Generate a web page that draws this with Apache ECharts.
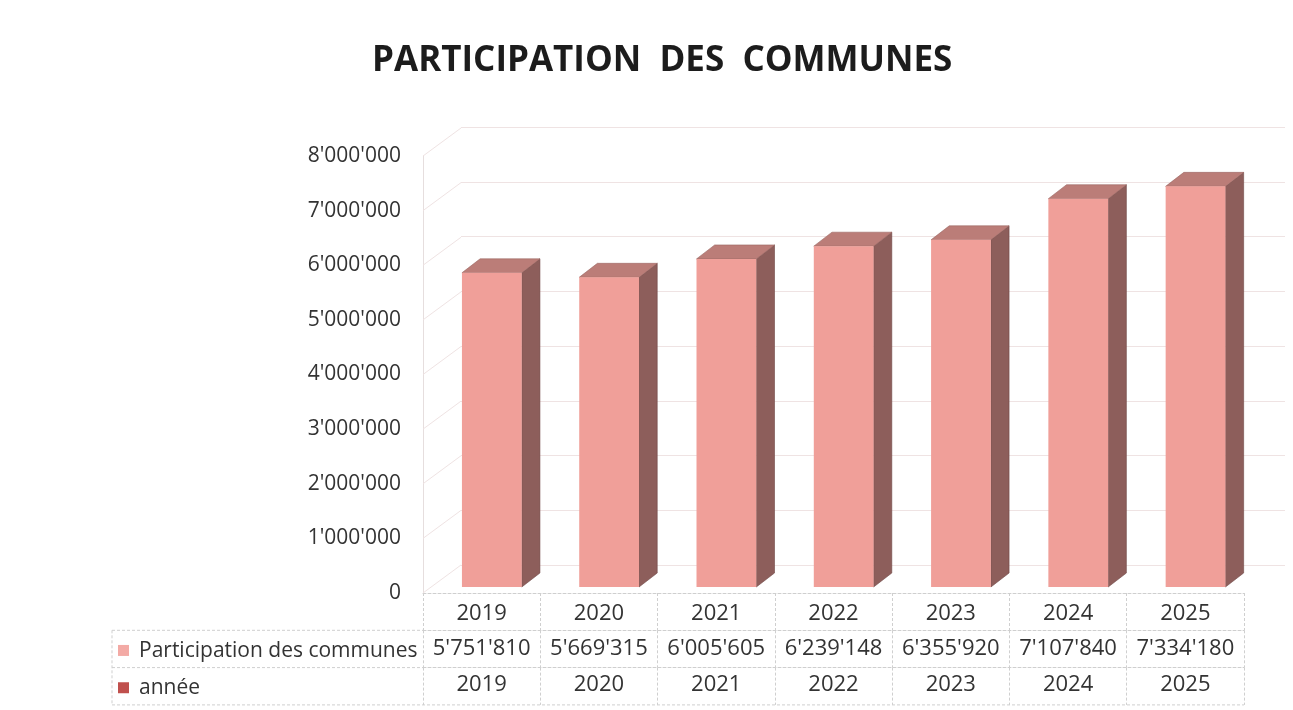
<!DOCTYPE html>
<html>
<head>
<meta charset="utf-8">
<script src="https://cdn.jsdelivr.net/npm/echarts@6/dist/echarts.min.js"></script>
<style>
html,body{margin:0;padding:0;background:#fff;}
#c{width:1293px;height:710px;}
</style>
</head>
<body>
<div id="c"></div>
<script>
// ---- data ----
const years = ['2019','2020','2021','2022','2023','2024','2025'];
const participation = [5751810, 5669315, 6005605, 6239148, 6355920, 7107840, 7334180];
const annee = [2019, 2020, 2021, 2022, 2023, 2024, 2025];
const yTicks = [0, 1000000, 2000000, 3000000, 4000000, 5000000, 6000000, 7000000, 8000000];
const seriesNames = ['Participation des communes', 'année'];
const titleText = 'PARTICIPATION  DES  COMMUNES';

// ---- helpers ----
const fmt = v => String(v).replace(/\B(?=(\d{3})+(?!\d))/g, "'");
const FONT = 'Open Sans';
const txt = '#333333';
const border = '#cfcfcf';
const front = '#f09f99', topC = '#bb7d78', sideC = '#8d5e5b';

const chart = echarts.init(document.getElementById('c'), null, {renderer: 'canvas'});

const G_LEFT = 423, G_RIGHT = 49, G_TOP = 156, G_BOTTOM = 117;
const ROW = 37.3;
const TABLE_LEFT = 112;
const gridBottomY = 710 - G_BOTTOM;
const tableLabel = {interval: 0, hideOverlap: false, fontFamily: FONT, fontSize: 22, color: txt};

const option = {
  backgroundColor: '#ffffff',
  animation: false,
  title: {
    text: titleText,
    left: 367,
    top: 39,
    textStyle: {fontFamily: FONT, fontWeight: 'bold', fontSize: 35, color: '#1c1c1c'}
  },
  grid: [
    {left: G_LEFT, right: G_RIGHT, top: G_TOP, bottom: G_BOTTOM},
    {left: G_LEFT + 38, right: 8, top: G_TOP - 29, bottom: G_BOTTOM + 28}
  ],
  xAxis: [
    {
      gridIndex: 0, type: 'category', data: years, position: 'bottom',
      axisLine: {show: true, lineStyle: {color: border, type: [3, 2]}},
      axisTick: {show: true, interval: 0, length: ROW, lineStyle: {color: border, type: [3, 2]}},
      axisLabel: Object.assign({margin: 10}, tableLabel)
    },
    {
      gridIndex: 0, type: 'category', data: participation.map(fmt), position: 'bottom', offset: ROW,
      axisLine: {show: true, lineStyle: {color: border, type: [3, 2]}},
      axisTick: {show: true, interval: 0, length: ROW, lineStyle: {color: border, type: [3, 2]}},
      axisLabel: Object.assign({margin: 7}, tableLabel)
    },
    {
      gridIndex: 0, type: 'category', data: annee.map(String), position: 'bottom', offset: ROW * 2,
      axisLine: {show: true, lineStyle: {color: border, type: [3, 2]}},
      axisTick: {show: true, interval: 0, length: ROW, lineStyle: {color: border, type: [3, 2]}},
      axisLabel: Object.assign({margin: 6}, tableLabel)
    },
    {
      gridIndex: 1, type: 'category', data: years, show: false
    }
  ],
  yAxis: [
    {
      gridIndex: 0, type: 'value', min: 0, max: 8000000, interval: 1000000,
      axisLine: {show: true, lineStyle: {color: '#e6dede'}},
      axisTick: {show: false},
      splitLine: {show: false},
      axisLabel: {margin: 22, fontFamily: FONT, fontSize: 21, color: txt, formatter: v => fmt(v)}
    },
    {
      gridIndex: 1, type: 'value', min: 0, max: 8000000, interval: 1000000,
      axisLine: {show: false}, axisTick: {show: false}, axisLabel: {show: false},
      splitLine: {show: true, lineStyle: {color: '#efe3e3', width: 1}}
    }
  ],
  series: [
    {
      // left wall diagonals
      type: 'custom', xAxisIndex: 0, yAxisIndex: 0, silent: true, z: 1,
      data: yTicks.map(v => [0, v]),
      renderItem: (params, api) => {
        const p = api.coord([0, api.value(1)]);
        const band = api.size([1, 0])[0];
        const lx = p[0] - band / 2;
        return {type: 'line', shape: {x1: lx, y1: p[1], x2: lx + 38, y2: p[1] - 28},
          style: {stroke: '#efe3e3', lineWidth: 1}};
      }
    },
    {
      name: seriesNames[0],
      type: 'custom', xAxisIndex: 0, yAxisIndex: 0, z: 3,
      data: participation.map((v, i) => [i, v]),
      renderItem: (params, api) => {
        const i = api.value(0), v = api.value(1);
        const top = api.coord([i, v]);
        const base = api.coord([i, 0]);
        const band = api.size([1, 0])[0];
        const w = band * 0.51, ox = band * 0.087, oy = -6;
        const dx = band * 0.155, dy = -14;
        const x0 = top[0] + ox - w / 2, x1 = x0 + w;
        const yt = top[1] + oy, yb = base[1] + oy;
        return {type: 'group', children: [
          {type: 'polygon', shape: {points: [[x1, yb], [x1 + dx, yb + dy], [x1 + dx, yt + dy], [x1, yt]]},
            style: {fill: sideC, stroke: '#6e4745', lineWidth: 0.6}},
          {type: 'polygon', shape: {points: [[x0, yt], [x0 + dx, yt + dy], [x1 + dx, yt + dy], [x1, yt]]},
            style: {fill: topC, stroke: '#9a6662', lineWidth: 0.6}},
          {type: 'rect', shape: {x: x0, y: yt, width: w, height: yb - yt},
            style: {fill: front}}
        ]};
      }
    }
  ],
  graphic: [
    // legend column of the data table
    {type: 'line', shape: {x1: TABLE_LEFT, y1: gridBottomY + ROW, x2: G_LEFT, y2: gridBottomY + ROW},
      style: {stroke: border, lineDash: [3, 2]}},
    {type: 'line', shape: {x1: TABLE_LEFT, y1: gridBottomY + ROW * 2, x2: G_LEFT, y2: gridBottomY + ROW * 2},
      style: {stroke: border, lineDash: [3, 2]}},
    {type: 'line', shape: {x1: TABLE_LEFT, y1: gridBottomY + ROW * 3, x2: 1293 - G_RIGHT, y2: gridBottomY + ROW * 3},
      style: {stroke: border, lineDash: [3, 2]}},
    {type: 'line', shape: {x1: TABLE_LEFT, y1: gridBottomY + ROW, x2: TABLE_LEFT, y2: gridBottomY + ROW * 3},
      style: {stroke: border, lineDash: [3, 2]}},
    {type: 'rect', shape: {x: 118, y: gridBottomY + ROW * 1.5 - 4, width: 11, height: 11},
      style: {fill: '#f3aaa5'}},
    {type: 'text', x: 139, y: gridBottomY + ROW * 1.5 + 2,
      style: {text: seriesNames[0], fontFamily: FONT, fontSize: 21, fill: txt, verticalAlign: 'middle'}},
    {type: 'rect', shape: {x: 118, y: gridBottomY + ROW * 2.5 - 4, width: 11, height: 11},
      style: {fill: '#c0504d'}},
    {type: 'text', x: 139, y: gridBottomY + ROW * 2.5 + 2,
      style: {text: seriesNames[1], fontFamily: FONT, fontSize: 21, fill: txt, verticalAlign: 'middle'}}
  ]
};
chart.setOption(option);
</script>
</body>
</html>
